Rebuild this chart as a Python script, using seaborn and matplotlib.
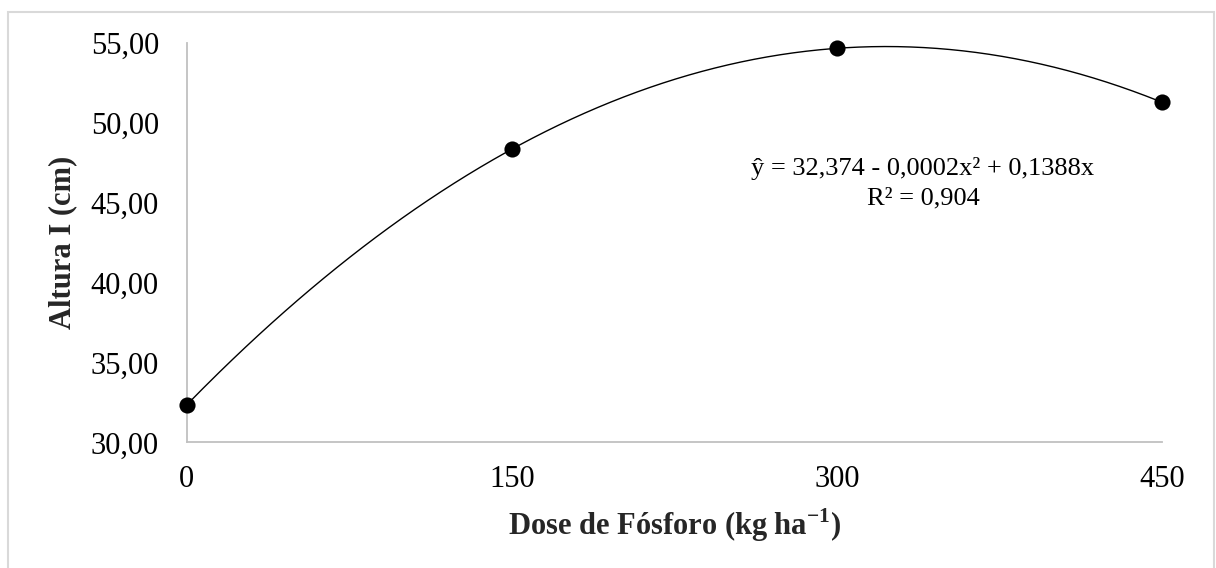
import numpy as np
import pandas as pd
import matplotlib
matplotlib.use("Agg")
import matplotlib.pyplot as plt
from matplotlib.patches import Rectangle
import seaborn as sns

# Doses de fósforo e altura média observada
doses = [0, 150, 300, 450]
altura = [32.35, 48.35, 54.67, 51.29]

x_ticks = [0, 150, 300, 450]
y_ticks = [30, 35, 40, 45, 50, 55]

equacao = "ŷ = 32,374 - 0,0002x² + 0,1388x"
r2_text = "R² = 0,904"

sns.set_theme(style="white")
plt.rcParams["font.family"] = ["Liberation Serif", "DejaVu Serif"]
plt.rcParams["mathtext.fontset"] = "custom"
plt.rcParams["mathtext.rm"] = "Liberation Serif"
plt.rcParams["mathtext.bf"] = "Liberation Serif:bold"

df = pd.DataFrame({"dose": doses, "altura": altura})

# Regressão polinomial de 2º grau sobre as médias
coef = np.polyfit(df["dose"], df["altura"], 2)
xs = np.linspace(min(doses), max(doses), 300)
curva = pd.DataFrame({"dose": xs, "altura": np.polyval(coef, xs)})

fig = plt.figure(figsize=(12.16, 5.68), dpi=100)
ax = fig.add_axes([0.1535, 0.2210, 0.8021, 0.7033])

sns.lineplot(data=curva, x="dose", y="altura", color="black", linewidth=1.0, ax=ax)
sns.scatterplot(data=df, x="dose", y="altura", color="black", s=135,
                edgecolor="black", linewidth=0, zorder=5, ax=ax, clip_on=False)

ax.set_xlim(0, 450)
ax.set_ylim(30, 55)
ax.set_xticks(x_ticks)
ax.set_xticklabels([str(v) for v in x_ticks])
ax.set_yticks(y_ticks)
ax.set_yticklabels([f"{v:.2f}".replace(".", ",") for v in y_ticks])
ax.tick_params(axis="both", length=0, labelsize=22, colors="black")
ax.tick_params(axis="y", pad=20)
ax.tick_params(axis="x", pad=16)

for side in ("top", "right"):
    ax.spines[side].set_visible(False)
for side in ("left", "bottom"):
    ax.spines[side].set_color("#c0c0c0")
    ax.spines[side].set_linewidth(1.3)

ax.set_xlabel(r"Dose de Fósforo (kg ha$^{\mathbf{-1}}$)", fontsize=22,
              fontweight="bold", va="center")
ax.set_ylabel("Altura I (cm)", fontsize=22, fontweight="bold", va="center")
ax.xaxis.set_label_coords(0.5, -0.2065)
ax.yaxis.set_label_coords(-0.127, 0.5)

ax.text(0.754, 0.687, equacao, transform=ax.transAxes, ha="center",
        va="center", fontsize=19, color="black")
ax.text(0.755, 0.612, r2_text, transform=ax.transAxes, ha="center",
        va="center", fontsize=19, color="black")

# Moldura do gráfico
fig.patches.append(Rectangle((8 / 1216, -0.02), (1214 - 8) / 1216, 1.02 - 12 / 568,
                             transform=fig.transFigure, fill=False,
                             edgecolor="#d9d9d9", linewidth=1.5))

fig.savefig("out.png", dpi=100, facecolor="white")
